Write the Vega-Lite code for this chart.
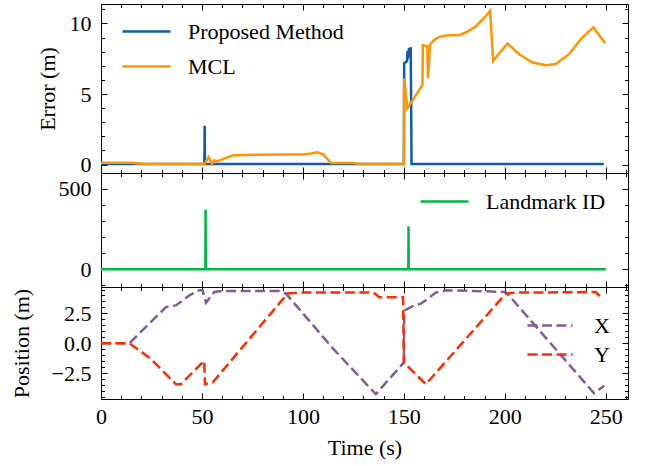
{
  "$schema": "https://vega.github.io/schema/vega-lite/v6.json",
  "padding": {"left": 9, "top": 3, "right": 5, "bottom": 5},
  "spacing": 0,
  "bounds": "flush",
  "resolve": {"scale": {"color": "independent"}, "legend": {"color": "independent"}},
  "datasets": {
    "err": [
      {"t": 0, "e": 0.03, "s": "Proposed Method"},
      {"t": 51.2, "e": 0.03, "s": "Proposed Method"},
      {"t": 51.35, "e": 2.75, "s": "Proposed Method"},
      {"t": 51.5, "e": 0.03, "s": "Proposed Method"},
      {"t": 100, "e": 0.04, "s": "Proposed Method"},
      {"t": 150.0, "e": 0.03, "s": "Proposed Method"},
      {"t": 150.15, "e": 7.2, "s": "Proposed Method"},
      {"t": 151.0, "e": 7.25, "s": "Proposed Method"},
      {"t": 151.6, "e": 7.35, "s": "Proposed Method"},
      {"t": 151.8, "e": 8.05, "s": "Proposed Method"},
      {"t": 152.0, "e": 7.5, "s": "Proposed Method"},
      {"t": 152.5, "e": 8.2, "s": "Proposed Method"},
      {"t": 153.4, "e": 8.22, "s": "Proposed Method"},
      {"t": 153.8, "e": 0.03, "s": "Proposed Method"},
      {"t": 200, "e": 0.03, "s": "Proposed Method"},
      {"t": 249, "e": 0.03, "s": "Proposed Method"},
      {"t": 0, "e": 0.13, "s": "MCL"},
      {"t": 15, "e": 0.13, "s": "MCL"},
      {"t": 20, "e": 0.06, "s": "MCL"},
      {"t": 51.3, "e": 0.04, "s": "MCL"},
      {"t": 53.3, "e": 0.52, "s": "MCL"},
      {"t": 55, "e": 0.02, "s": "MCL"},
      {"t": 56, "e": 0.3, "s": "MCL"},
      {"t": 57.6, "e": 0.22, "s": "MCL"},
      {"t": 61.9, "e": 0.47, "s": "MCL"},
      {"t": 65, "e": 0.64, "s": "MCL"},
      {"t": 70, "e": 0.68, "s": "MCL"},
      {"t": 93, "e": 0.71, "s": "MCL"},
      {"t": 100, "e": 0.71, "s": "MCL"},
      {"t": 104, "e": 0.78, "s": "MCL"},
      {"t": 107.2, "e": 0.87, "s": "MCL"},
      {"t": 110, "e": 0.72, "s": "MCL"},
      {"t": 113.9, "e": 0.11, "s": "MCL"},
      {"t": 125, "e": 0.11, "s": "MCL"},
      {"t": 128, "e": 0.03, "s": "MCL"},
      {"t": 150.0, "e": 0.03, "s": "MCL"},
      {"t": 150.15, "e": 6.1, "s": "MCL"},
      {"t": 151.8, "e": 4.0, "s": "MCL"},
      {"t": 159.2, "e": 5.64, "s": "MCL"},
      {"t": 159.4, "e": 8.46, "s": "MCL"},
      {"t": 161.6, "e": 8.4, "s": "MCL"},
      {"t": 161.9, "e": 6.12, "s": "MCL"},
      {"t": 163, "e": 8.53, "s": "MCL"},
      {"t": 165.1, "e": 8.84, "s": "MCL"},
      {"t": 167.5, "e": 9.05, "s": "MCL"},
      {"t": 170.8, "e": 9.15, "s": "MCL"},
      {"t": 177.4, "e": 9.19, "s": "MCL"},
      {"t": 180.7, "e": 9.36, "s": "MCL"},
      {"t": 185.6, "e": 9.79, "s": "MCL"},
      {"t": 190.3, "e": 10.48, "s": "MCL"},
      {"t": 192.7, "e": 10.9, "s": "MCL"},
      {"t": 194.2, "e": 7.35, "s": "MCL"},
      {"t": 201.3, "e": 8.58, "s": "MCL"},
      {"t": 207.1, "e": 7.82, "s": "MCL"},
      {"t": 213.7, "e": 7.23, "s": "MCL"},
      {"t": 220.3, "e": 7.04, "s": "MCL"},
      {"t": 225.2, "e": 7.12, "s": "MCL"},
      {"t": 231.8, "e": 7.82, "s": "MCL"},
      {"t": 237.6, "e": 8.89, "s": "MCL"},
      {"t": 243.9, "e": 9.72, "s": "MCL"},
      {"t": 249.7, "e": 8.6, "s": "MCL"}
    ],
    "lm": [
      {"t": 0, "id": 0, "s": "Landmark ID"},
      {"t": 51.7, "id": 0, "s": "Landmark ID"},
      {"t": 51.8, "id": 370, "s": "Landmark ID"},
      {"t": 51.9, "id": 0, "s": "Landmark ID"},
      {"t": 152.2, "id": 0, "s": "Landmark ID"},
      {"t": 152.3, "id": 266, "s": "Landmark ID"},
      {"t": 152.4, "id": 0, "s": "Landmark ID"},
      {"t": 250, "id": 0, "s": "Landmark ID"}
    ],
    "pos": [
      {"t": 0, "p": 0, "s": "X"},
      {"t": 14, "p": 0, "s": "X"},
      {"t": 32.2, "p": 3.03, "s": "X"},
      {"t": 37.1, "p": 3.17, "s": "X"},
      {"t": 43.7, "p": 4.0, "s": "X"},
      {"t": 48.7, "p": 4.44, "s": "X"},
      {"t": 50.3, "p": 4.44, "s": "X"},
      {"t": 52, "p": 3.4, "s": "X"},
      {"t": 56.1, "p": 4.3, "s": "X"},
      {"t": 60.2, "p": 4.38, "s": "X"},
      {"t": 88.3, "p": 4.38, "s": "X"},
      {"t": 91.6, "p": 4.16, "s": "X"},
      {"t": 114.7, "p": -0.4, "s": "X"},
      {"t": 136.1, "p": -4.26, "s": "X"},
      {"t": 150.0, "p": -1.6, "s": "X"},
      {"t": 150.2, "p": 2.75, "s": "X"},
      {"t": 154.3, "p": 3.11, "s": "X"},
      {"t": 158.4, "p": 3.31, "s": "X"},
      {"t": 165.8, "p": 4.24, "s": "X"},
      {"t": 170.8, "p": 4.44, "s": "X"},
      {"t": 200.5, "p": 4.3, "s": "X"},
      {"t": 244.2, "p": -4.18, "s": "X"},
      {"t": 249.2, "p": -3.56, "s": "X"},
      {"t": 0, "p": 0, "s": "Y"},
      {"t": 14, "p": 0, "s": "Y"},
      {"t": 24, "p": -1.2, "s": "Y"},
      {"t": 37.1, "p": -3.42, "s": "Y"},
      {"t": 39.6, "p": -3.42, "s": "Y"},
      {"t": 51.1, "p": -1.46, "s": "Y"},
      {"t": 51.5, "p": -3.42, "s": "Y"},
      {"t": 55.3, "p": -3.28, "s": "Y"},
      {"t": 92.4, "p": 4.16, "s": "Y"},
      {"t": 98.2, "p": 4.24, "s": "Y"},
      {"t": 135, "p": 4.24, "s": "Y"},
      {"t": 137.8, "p": 3.85, "s": "Y"},
      {"t": 149.6, "p": 3.85, "s": "Y"},
      {"t": 150.0, "p": -1.6, "s": "Y"},
      {"t": 160.9, "p": -3.42, "s": "Y"},
      {"t": 200.5, "p": 4.16, "s": "Y"},
      {"t": 205.4, "p": 4.24, "s": "Y"},
      {"t": 245, "p": 4.29, "s": "Y"},
      {"t": 248.3, "p": 3.74, "s": "Y"}
    ]
  },
  "vconcat": [
    {
      "width": 527,
      "height": 169,
      "data": {"name": "err"},
      "layer": [
        {
          "mark": {"type": "line", "strokeWidth": 2.5},
          "encoding": {
            "x": {"field": "t", "type": "quantitative", "scale": {"domain": [0, 261], "nice": false, "zero": false},
              "axis": {"orient": "bottom", "values": [0,10,20,30,40,50,60,70,80,90,100,110,120,130,140,150,160,170,180,190,200,210,220,230,240,250,260], "labels": false, "title": null,
                "tickSize": {"condition": {"test": "datum.value % 50 === 0", "value": -6}, "value": -3.5}}},
            "y": {"field": "e", "type": "quantitative", "scale": {"domain": [-0.6, 11.38], "nice": false, "zero": false},
              "axis": {"orient": "left", "values": [0,1,2,3,4,5,6,7,8,9,10,11], "title": "Error (m)", "titlePadding": 10, "labelPadding": 16,
                "labelExpr": "datum.value % 5 === 0 ? datum.label : ''",
                "labelFontSize": {"condition": {"test": "datum.value % 5 === 0", "value": 22}, "value": 0},
                "tickSize": {"condition": {"test": "datum.value % 5 === 0", "value": -6}, "value": -3.5}}},
            "color": {"field": "s", "type": "nominal", "sort": null,
              "scale": {"domain": ["Proposed Method", "MCL"], "range": ["#0C5DA5", "#FF9500"]},
              "legend": {"title": null, "orient": "none", "legendX": 20, "legendY": 10, "symbolType": "stroke", "symbolSize": 2304, "symbolStrokeWidth": 2.5, "labelOffset": 16, "clipHeight": 35, "rowPadding": 0, "padding": 0}}
          }
        },
        {
          "mark": {"type": "point", "opacity": 0},
          "encoding": {
            "x": {"field": "t", "type": "quantitative", "scale": {"domain": [0, 261], "nice": false, "zero": false},
              "axis": {"orient": "top", "values": [0,10,20,30,40,50,60,70,80,90,100,110,120,130,140,150,160,170,180,190,200,210,220,230,240,250,260], "labels": false, "title": null,
                "tickSize": {"condition": {"test": "datum.value % 50 === 0", "value": -6}, "value": -3.5}}},
            "y": {"field": "e", "type": "quantitative", "scale": {"domain": [-0.6, 11.38], "nice": false, "zero": false},
              "axis": {"orient": "right", "values": [0,1,2,3,4,5,6,7,8,9,10,11], "labels": false, "title": null,
                "tickSize": {"condition": {"test": "datum.value % 5 === 0", "value": -6}, "value": -3.5}}}
          }
        }
      ],
      "resolve": {"axis": {"x": "independent", "y": "independent"}}
    },
    {
      "width": 527,
      "height": 114,
      "data": {"name": "lm"},
      "layer": [
        {
          "mark": {"type": "line", "strokeWidth": 2.5},
          "encoding": {
            "x": {"field": "t", "type": "quantitative", "scale": {"domain": [0, 261], "nice": false, "zero": false},
              "axis": {"orient": "bottom", "values": [0,10,20,30,40,50,60,70,80,90,100,110,120,130,140,150,160,170,180,190,200,210,220,230,240,250,260], "labels": false, "title": null,
                "tickSize": {"condition": {"test": "datum.value % 50 === 0", "value": -6}, "value": -3.5}}},
            "y": {"field": "id", "type": "quantitative", "scale": {"domain": [-110, 597], "nice": false, "zero": false},
              "axis": {"orient": "left", "values": [-100,0,100,200,300,400,500], "title": null, "labelPadding": 16,
                "labelExpr": "datum.value % 500 === 0 ? datum.label : ''",
                "labelFontSize": {"condition": {"test": "datum.value % 500 === 0", "value": 22}, "value": 0},
                "tickSize": {"condition": {"test": "datum.value % 500 === 0", "value": -6}, "value": -3.5}}},
            "color": {"field": "s", "type": "nominal",
              "scale": {"domain": ["Landmark ID"], "range": ["#00B945"]},
              "legend": {"title": null, "orient": "none", "legendX": 318, "legendY": 3, "symbolType": "stroke", "symbolSize": 2304, "symbolStrokeWidth": 2.5, "labelOffset": 16, "padding": 0}}
          }
        },
        {
          "mark": {"type": "point", "opacity": 0},
          "encoding": {
            "x": {"field": "t", "type": "quantitative", "scale": {"domain": [0, 261], "nice": false, "zero": false},
              "axis": {"orient": "top", "values": [0,10,20,30,40,50,60,70,80,90,100,110,120,130,140,150,160,170,180,190,200,210,220,230,240,250,260], "labels": false, "title": null,
                "tickSize": {"condition": {"test": "datum.value % 50 === 0", "value": -6}, "value": -3.5}}},
            "y": {"field": "id", "type": "quantitative", "scale": {"domain": [-110, 597], "nice": false, "zero": false},
              "axis": {"orient": "right", "values": [-100,0,100,200,300,400,500], "labels": false, "title": null,
                "tickSize": {"condition": {"test": "datum.value % 500 === 0", "value": -6}, "value": -3.5}}}
          }
        }
      ],
      "resolve": {"axis": {"x": "independent", "y": "independent"}}
    },
    {
      "width": 527,
      "height": 112,
      "data": {"name": "pos"},
      "layer": [
        {
          "mark": {"type": "line", "strokeWidth": 2.5, "strokeDash": [10, 4.5]},
          "encoding": {
            "x": {"field": "t", "type": "quantitative", "scale": {"domain": [0, 261], "nice": false, "zero": false},
              "axis": {"orient": "bottom", "values": [0,10,20,30,40,50,60,70,80,90,100,110,120,130,140,150,160,170,180,190,200,210,220,230,240,250,260], "title": "Time (s)", "titlePadding": 10, "labelPadding": 13,
                "labelExpr": "datum.value % 50 === 0 ? datum.label : ''",
                "labelFontSize": {"condition": {"test": "datum.value % 50 === 0", "value": 22}, "value": 0},
                "tickSize": {"condition": {"test": "datum.value % 50 === 0", "value": -6}, "value": -3.5}}},
            "y": {"field": "p", "type": "quantitative", "scale": {"domain": [-4.66, 4.71], "nice": false, "zero": false},
              "axis": {"orient": "left", "values": [-4.5,-4,-3.5,-3,-2.5,-2,-1.5,-1,-0.5,0,0.5,1,1.5,2,2.5,3,3.5,4,4.5], "format": ".1f", "title": "Position (m)", "titlePadding": 18, "labelPadding": 16,
                "labelExpr": "datum.value % 2.5 === 0 ? datum.label : ''",
                "labelFontSize": {"condition": {"test": "datum.value % 2.5 === 0", "value": 22}, "value": 0},
                "tickSize": {"condition": {"test": "datum.value % 2.5 === 0", "value": -6}, "value": -3.5}}},
            "color": {"field": "s", "type": "nominal",
              "scale": {"domain": ["X", "Y"], "range": ["#845B97", "#FF2C00"]},
              "legend": {"title": null, "orient": "none", "legendX": 425, "legendY": 24, "symbolType": "stroke", "symbolSize": 2025, "symbolStrokeWidth": 2.5, "symbolDash": [10, 4.5], "labelOffset": 20, "clipHeight": 29, "rowPadding": 0, "padding": 0}}
          }
        },
        {
          "mark": {"type": "point", "opacity": 0},
          "encoding": {
            "x": {"field": "t", "type": "quantitative", "scale": {"domain": [0, 261], "nice": false, "zero": false},
              "axis": {"orient": "top", "values": [0,10,20,30,40,50,60,70,80,90,100,110,120,130,140,150,160,170,180,190,200,210,220,230,240,250,260], "labels": false, "title": null,
                "tickSize": {"condition": {"test": "datum.value % 50 === 0", "value": -6}, "value": -3.5}}},
            "y": {"field": "p", "type": "quantitative", "scale": {"domain": [-4.66, 4.71], "nice": false, "zero": false},
              "axis": {"orient": "right", "values": [-4.5,-4,-3.5,-3,-2.5,-2,-1.5,-1,-0.5,0,0.5,1,1.5,2,2.5,3,3.5,4,4.5], "labels": false, "title": null,
                "tickSize": {"condition": {"test": "datum.value % 2.5 === 0", "value": -6}, "value": -3.5}}}
          }
        }
      ],
      "resolve": {"axis": {"x": "independent", "y": "independent"}}
    }
  ],
  "config": {
    "view": {"stroke": "#000", "strokeWidth": 1},
    "font": "Liberation Serif",
    "axis": {"domain": false, "grid": false, "tickColor": "#000", "tickWidth": 1, "labelFont": "Liberation Serif", "labelFontSize": 22, "labelColor": "#000", "titleFont": "Liberation Serif", "titleFontSize": 22, "titleFontWeight": "normal", "titleColor": "#000", "labelFlush": false, "labelOverlap": false},
    "legend": {"labelFont": "Liberation Serif", "labelFontSize": 22, "labelColor": "#000"}
  }
}
